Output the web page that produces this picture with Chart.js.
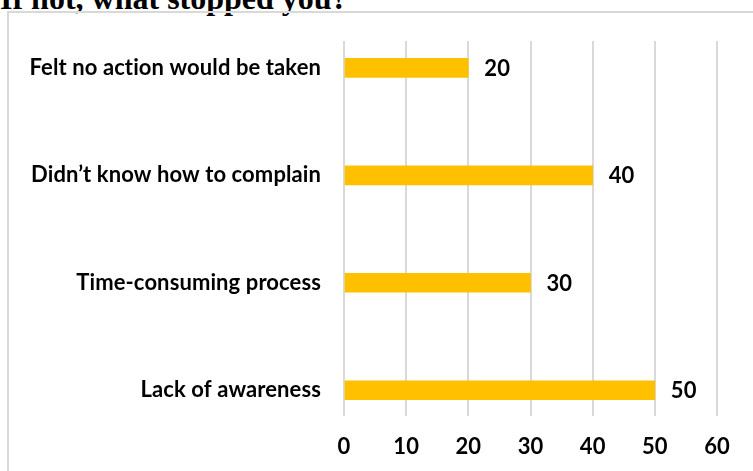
<!DOCTYPE html>
<html>
<head>
<meta charset="utf-8">
<script src="https://cdn.jsdelivr.net/npm/chart.js@4"></script>
<style>
  html, body { margin: 0; padding: 0; background: #fff; overflow: hidden; }
  body { width: 753px; height: 471px; position: relative; }
  #title {
    position: absolute; left: 0; top: -18px; margin: 0;
    font: bold 32px "Liberation Serif", "Times New Roman", serif;
    line-height: 1; color: #000; white-space: nowrap;
  }
  #frame {
    position: absolute; left: 7px; top: 11px; width: 800px; height: 520px;
    border: 2px solid #d9d9d9; box-sizing: border-box;
  }
  #wrap { position: absolute; left: 9px; top: 13px; width: 744px; height: 458px; }
</style>
</head>
<body>
<h1 id="title">If not, what stopped you?</h1>
<div id="frame"></div>
<div id="wrap"><canvas id="reasons"></canvas></div>
<script>
const categories = ['Felt no action would be taken', 'Didn\u2019t know how to complain', 'Time-consuming process', 'Lack of awareness'];
const counts = [20, 40, 30, 50];
const xTicks = [0, 10, 20, 30, 40, 50, 60];

const labelFont = { family: 'Lato', weight: 'bold', size: 22 };

// a tiny letter spacing keeps Lato from joining "ti" into a ligature
const noLigatures = {
    id: 'noLigatures',
    beforeDraw(chart) { chart.ctx.letterSpacing = '0.1px'; }
};

// writes the count just past the end of each bar
const valueLabels = {
    id: 'valueLabels',
    afterDatasetsDraw(chart) {
        const ctx = chart.ctx;
        const meta = chart.getDatasetMeta(0);
        ctx.save();
        ctx.font = `bold ${labelFont.size}px ${labelFont.family}`;
        ctx.fillStyle = '#000';
        ctx.textAlign = 'left';
        ctx.textBaseline = 'middle';
        meta.data.forEach((bar, i) => {
            ctx.fillText(String(counts[i]), bar.x + 16, bar.y + 1);
        });
        ctx.restore();
    }
};

const ctx = document.getElementById('reasons').getContext('2d');
let reasonsChart = new Chart(ctx, {
    type: 'bar',
    data: {
        datasets: [{
            label: 'Responses',
            data: counts.map((v, i) => ({ x: v, y: i })),
            backgroundColor: '#FFC000',
            barThickness: 19
        }]
    },
    options: {
        indexAxis: 'y',
        responsive: true,
        maintainAspectRatio: false,
        animation: false,
        layout: { padding: { top: 28, right: 36, bottom: 0, left: 0 } },
        plugins: {
            legend: { display: false },
            tooltip: { enabled: false }
        },
        scales: {
            x: {
                type: 'linear',
                min: xTicks[0],
                max: xTicks[xTicks.length - 1],
                afterBuildTicks: s => { s.ticks = xTicks.map(v => ({ value: v })); },
                afterFit: s => { s.height = 55; },
                grid: { color: '#d9d9d9', lineWidth: 2, drawTicks: false },
                border: { display: false },
                ticks: { font: labelFont, color: '#000', padding: 18 }
            },
            y: {
                type: 'linear',
                reverse: true,
                offset: false,
                min: -0.25,
                max: 3.24,
                afterBuildTicks: s => { s.ticks = s.ticks.filter(t => Number.isInteger(t.value)); },
                afterFit: s => { s.width = 335; s.paddingTop = 0; s.paddingBottom = 0; },
                grid: { display: false, drawTicks: false },
                border: { display: false },
                ticks: {
                    autoSkip: false,
                    font: labelFont,
                    color: '#000',
                    padding: 23,
                    callback: v => categories[v]
                }
            }
        }
    },
    plugins: [noLigatures, valueLabels]
});
</script>
</body>
</html>
